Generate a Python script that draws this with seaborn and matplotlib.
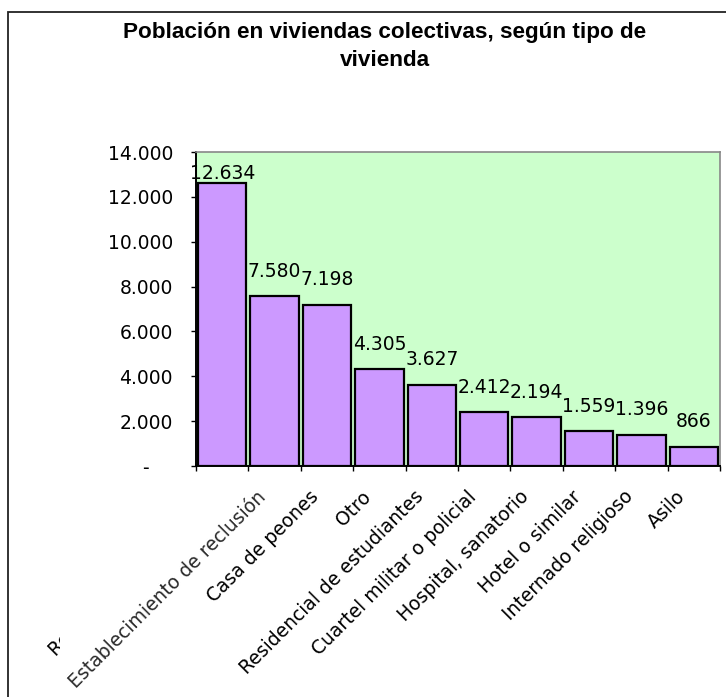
import matplotlib
matplotlib.use("Agg")
import matplotlib.pyplot as plt
import seaborn as sns
import pandas as pd
from matplotlib.patches import Rectangle
from matplotlib.ticker import FixedLocator, FuncFormatter
from matplotlib.transforms import Bbox, ScaledTranslation

sns.set_style("white")
plt.rcParams["font.family"] = ["DejaVu Sans"]
plt.rcParams["text.color"] = "black"
plt.rcParams["xtick.color"] = "black"
plt.rcParams["ytick.color"] = "black"

# Data
categorias = [
    "Residencial de ancianos",
    "Establecimiento de reclusión",
    "Casa de peones",
    "Otro",
    "Residencial de estudiantes",
    "Cuartel militar o policial",
    "Hospital, sanatorio",
    "Hotel o similar",
    "Internado religioso",
    "Asilo",
]
poblacion = [12634, 7580, 7198, 4305, 3627, 2412, 2194, 1559, 1396, 866]
titulo = "Población en viviendas colectivas, según tipo de\nvivienda"

df = pd.DataFrame({"tipo": categorias, "poblacion": poblacion})

W, H = 726, 697
fig = plt.figure(figsize=(W / 100, H / 100), dpi=100)
ax = fig.add_axes([196 / W, 1 - 466 / H, (720 - 196) / W, (466 - 152) / H])

# outer chart border (right/bottom edges fall outside the picture)
fig.patches.append(Rectangle((8 / W, -0.1), 2, 1.1 - 12 / H, transform=fig.transFigure,
                             fill=False, edgecolor="#222222", linewidth=1.3))

fig.text(385 / W, 1 - 65.5 / H, titulo, ha="center", va="baseline", fontsize=16.2,
         fontweight="bold", linespacing=1.42, multialignment="center",
         family=["Liberation Sans", "DejaVu Sans"])

sns.barplot(data=df, x="tipo", y="poblacion", color="#CC99FF", saturation=1,
            width=0.92, edgecolor="black", linewidth=1.6, ax=ax)

ax.set_facecolor("#CCFFCC")
ax.set_ylim(0, 14000)
ax.set_xlim(-0.5, len(categorias) - 0.5)
ax.set_xlabel("")
ax.set_ylabel("")

for side in ["top", "right"]:
    ax.spines[side].set_color("#888888")
    ax.spines[side].set_linewidth(1.2)
for side in ["left", "bottom"]:
    ax.spines[side].set_color("black")
    ax.spines[side].set_linewidth(1.4)

# y axis
ax.yaxis.set_major_locator(FixedLocator(range(0, 14001, 2000)))
ax.yaxis.set_major_formatter(FuncFormatter(
    lambda v, p: "-\u2007\u2007" if v == 0 else f"{int(v):,}".replace(",", ".")))
ax.tick_params(axis="y", direction="out", length=3.6, width=1, color="black",
               labelsize=13.5, pad=13, left=True)

# x axis: tick marks between categories, labels at the centres
ax.xaxis.set_minor_locator(FixedLocator([i - 0.5 for i in range(len(categorias) + 1)]))
ax.tick_params(axis="x", which="minor", direction="out", length=3.6, width=1,
               color="black", bottom=True)
ax.tick_params(axis="x", which="major", length=0, labelsize=13.5, pad=20)
labels = ax.get_xticklabels()
shift = ScaledTranslation(-8 / 72, 0, fig.dpi_scale_trans)
for lab in labels:
    lab.set_rotation(45)
    lab.set_ha("right")
    lab.set_va("center")
    lab.set_rotation_mode("anchor")
    lab.set_transform(lab.get_transform() + shift)
labels[1].set_color("#2a2a2a")
# only the first letter of the first label is visible in the original
labels[0].set_clip_on(True)
labels[0].set_clip_box(Bbox.from_extents(0, 28, 60, 85))

# data labels
for i, v in enumerate(poblacion):
    pad = 11 if v < 12000 else 0
    ax.annotate(f"{v:,}".replace(",", "."), (i, v), xytext=(0, pad),
                textcoords="offset points", ha="center", va="bottom", fontsize=13.5)

fig.savefig("out.png", dpi=100)
